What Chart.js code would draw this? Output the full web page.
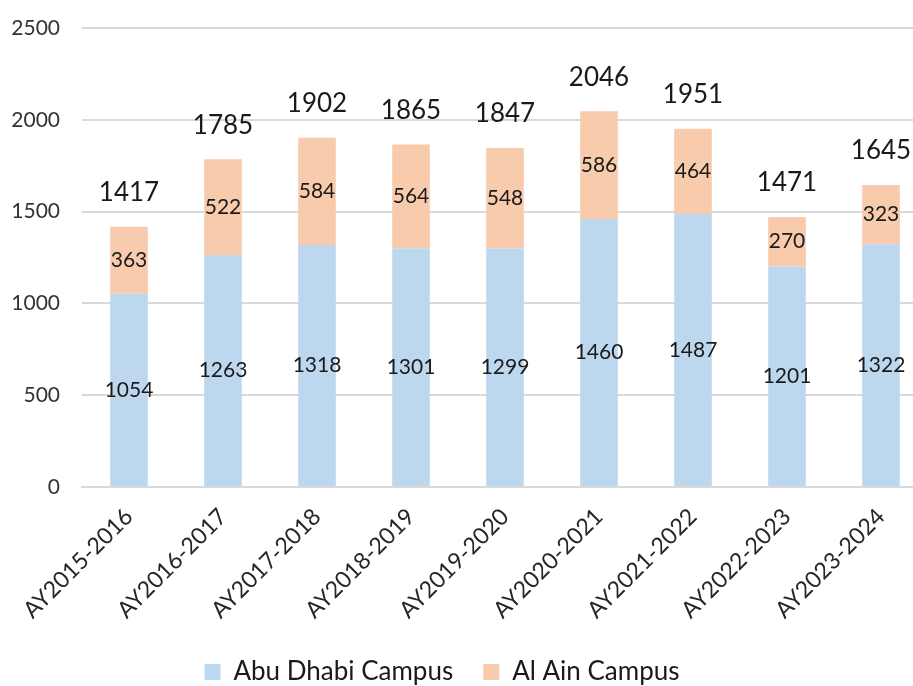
<!DOCTYPE html>
<html>
<head>
<meta charset="utf-8">
<script src="https://cdn.jsdelivr.net/npm/chart.js@4"></script>
<style>
  html, body { margin: 0; padding: 0; background: #fff; overflow: hidden; }
  .chart-con { position: absolute; left: -44px; top: 0; width: 974px; height: 695px; }
</style>
</head>
<body>
<div class="chart-con"><canvas id="bar-chart"></canvas></div>
<script>
const years = ['AY2015-2016', 'AY2016-2017', 'AY2017-2018', 'AY2018-2019', 'AY2019-2020',
  'AY2020-2021', 'AY2021-2022', 'AY2022-2023', 'AY2023-2024']
const abuDhabi = [1054, 1263, 1318, 1301, 1299, 1460, 1487, 1201, 1322]
const alAin = [363, 522, 584, 564, 548, 586, 464, 270, 323]
const yTicks = [0, 500, 1000, 1500, 2000, 2500]

const fontName = 'Lato, "Open Sans", sans-serif'

// segment labels in the middle, totals on top
const barLabels = {
  id: 'barLabels',
  afterDatasetsDraw(chart) {
    const { ctx } = chart
    ctx.save()
    ctx.textAlign = 'center'
    ctx.textBaseline = 'middle'
    ctx.fillStyle = '#1a1a1a'
    ctx.font = '21px ' + fontName
    chart.data.datasets.forEach((ds, i) => {
      chart.getDatasetMeta(i).data.forEach((bar, j) => {
        ctx.fillText(ds.data[j], bar.x, (bar.y + bar.base) / 2)
      })
    })
    ctx.font = '26px ' + fontName
    const top = chart.getDatasetMeta(1).data
    top.forEach((bar, j) => {
      const total = abuDhabi[j] + alAin[j]
      ctx.fillText(total, bar.x, bar.y - 34)
    })
    ctx.restore()
  }
}

const data = {
  labels: years,
  datasets: [{
    label: 'Abu Dhabi Campus',
    data: abuDhabi,
    backgroundColor: '#BDD7EE',
    barPercentage: 0.4,
    categoryPercentage: 1,
  }, {
    label: 'Al Ain Campus',
    data: alAin,
    backgroundColor: '#F8CBAD',
    barPercentage: 0.4,
    categoryPercentage: 1,
  }]
}

const config = {
  type: 'bar',
  data: data,
  options: {
    responsive: true,
    maintainAspectRatio: false,
    animation: false,
    layout: { padding: { top: 28, right: 2, left: 0, bottom: 0 } },
    scales: {
      x: {
        stacked: true,
        grid: { display: false },
        border: { color: '#d9d9d9', width: 2 },
        ticks: {
          color: '#262626',
          font: { size: 23, family: fontName },
          minRotation: 45,
          maxRotation: 45,
          padding: 8,
        },
        afterFit(scale) { scale.height = 142 },
      },
      y: {
        stacked: true,
        min: 0,
        max: 2500,
        afterBuildTicks(scale) { scale.ticks = yTicks.map(v => ({ value: v })) },
        grid: { color: '#d9d9d9', lineWidth: 2, drawTicks: false },
        border: { display: false },
        ticks: {
          color: '#333',
          font: { size: 21, family: fontName },
          padding: 22,
          callback: (v) => String(v),
        },
        afterFit(scale) {
          scale.width = 126
          scale.paddingTop = 0
          scale.paddingBottom = 0
        },
      }
    },
    plugins: {
      tooltip: { enabled: false },
      legend: {
        position: 'bottom',
        labels: {
          color: '#1a1a1a',
          font: { size: 26, family: fontName },
          boxWidth: 16,
          boxHeight: 16,
          padding: 30,
        }
      }
    }
  },
  plugins: [barLabels],
}

const barChart = new Chart(document.getElementById('bar-chart'), config)
</script>
</body>
</html>
